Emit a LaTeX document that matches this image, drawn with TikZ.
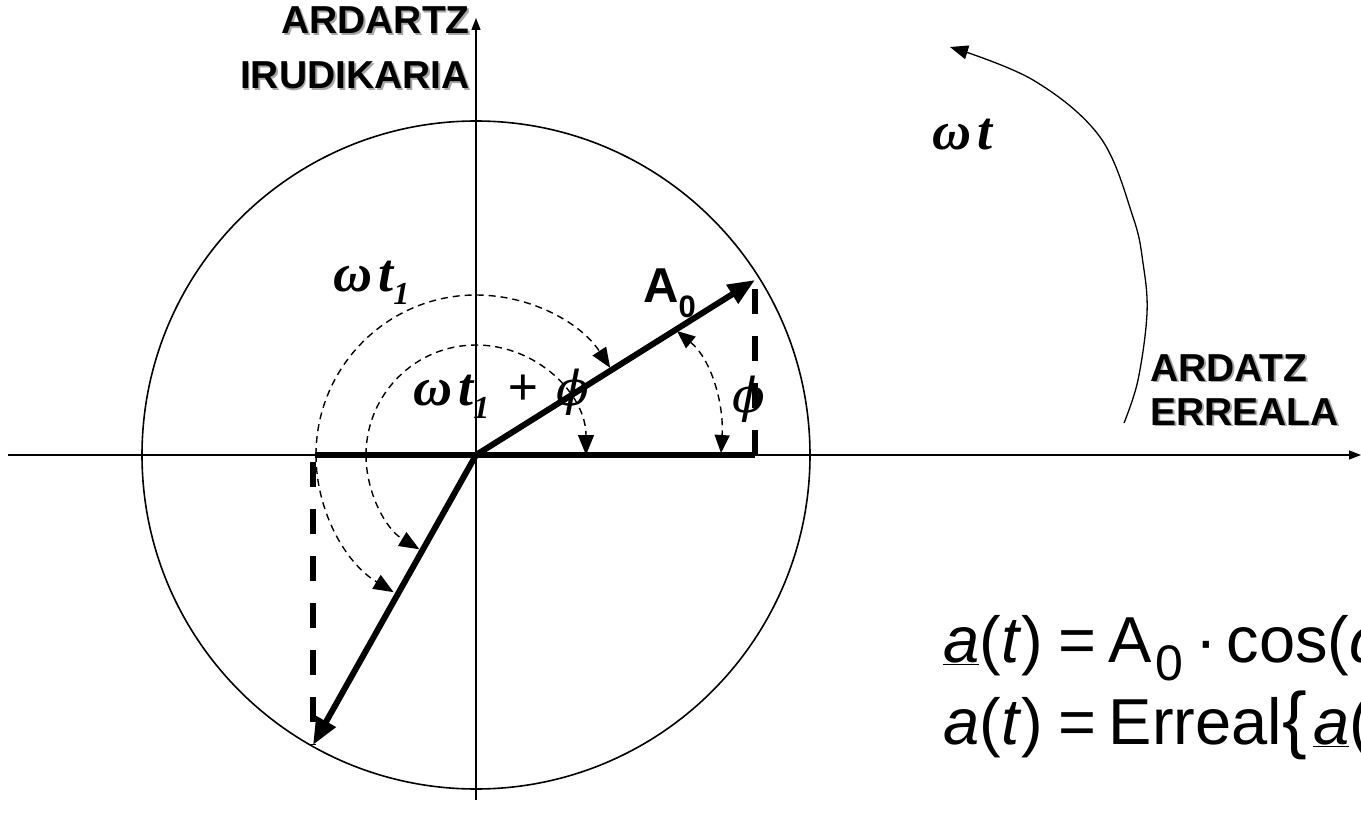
\documentclass[tikz,border=0pt]{standalone}
\usepackage{fontspec}
\setmainfont{Liberation Sans}
\newfontfamily\tms{Liberation Serif}
\newfontfamily\dvs{DejaVu Serif}
\usetikzlibrary{arrows.meta}
\newcommand\shd[1]{\leavevmode\rlap{\hspace{1.8pt}\raisebox{-1.8pt}{\color{black!35}#1}}#1}
\newcommand\gi[1]{{\tms\bfseries\itshape #1}}
\newcommand\gphi{{\dvs\itshape ϕ}}
\newcommand\subone{\raisebox{-13pt}{\fontsize{32}{32}\selectfont 1}}
\begin{document}
\begin{tikzpicture}[x=1pt,y=-1pt,
  axisln/.style={line width=1.3pt,-{Triangle[length=12pt,width=9pt]}},
  vecln/.style={line width=6pt,-{Triangle[length=27pt,width=21pt]}},
  boldln/.style={line width=6pt},
  projln/.style={line width=6.5pt,dash pattern=on 25pt off 22pt},
  darc/.style={line width=1.4pt,dash pattern=on 7pt off 5pt},
  darrow/.style={-{Triangle[length=20pt,width=16pt]}},
  bigtxt/.style={inner sep=0pt,font=\fontsize{39}{39}\selectfont\bfseries},
  grk/.style={inner sep=0pt,font=\fontsize{54}{54}\selectfont},
  eqn/.style={inner sep=0pt,anchor=base west,font=\fontsize{65}{65}\selectfont}]
\useasboundingbox (0,0) rectangle (1361,813);
\fill[white] (0,0) rectangle (1361,813);
\clip (0,0) rectangle (1361,813);

% key points
\coordinate (O) at (476,455);
\coordinate (A) at (755,280);
\coordinate (B) at (313,745);
\coordinate (Hl) at (315,455);
\coordinate (Hr) at (755,455);
\coordinate (Bt) at (313,462);
\coordinate (xl) at (8,455);
\coordinate (xr) at (1361,455);
\coordinate (yb) at (476,800);
\coordinate (yt) at (476,18);
\coordinate (p1) at (677,331);
\coordinate (p2) at (721,453);

% axes and circle
\draw[axisln] (xl) -- (xr);
\draw[axisln] (yb) -- (yt);
\node[circle,draw,line width=1.6pt,minimum size=668pt,inner sep=0pt] (circ) at (O) {};

% dashed projections
\draw[projln] (Hr) -- (A);
\draw[projln] (Bt) -- (B);

% bold lines and vectors
\draw[boldln] (Hl) -- (Hr);
\draw[vecln] (O) -- (A);
\draw[vecln] (O) -- (B);

% dashed angle arcs
\draw[darc,darrow] (O) ++(-180:160) arc[start angle=-180,end angle=-33,radius=160];
\draw[darc,darrow] (O) ++(-180:110) arc[start angle=-180,end angle=0,radius=110];
\draw[darc,darrow] (O) ++(-180:160) arc[start angle=-180,end angle=-239,radius=160];
\draw[darc,darrow] (O) ++(-180:110) arc[start angle=-180,end angle=-239,radius=110];
\draw[darc,{Triangle[length=18pt,width=15pt]}-{Triangle[length=18pt,width=15pt]}] (p1) .. controls (712,360) and (724,405) .. (p2);

% omega t rotation arrow
\draw[line width=1.3pt,-{Triangle[length=18pt,width=14pt]}] plot[smooth,tension=0.6] coordinates {(1124,423) (1138,380) (1147,313) (1143,263) (1133,217) (1100,137) (1033,80) (950,47)};

% labels
\node[bigtxt,anchor=base east] (im1) at (470,34) {\shd{ARDARTZ}};
\node[bigtxt,anchor=base east] (im2) at (470,89) {\shd{IRUDIKARIA}};
\node[bigtxt,anchor=base west] (re1) at (1150,381) {\shd{ARDATZ}};
\node[bigtxt,anchor=base west] (re2) at (1150,425) {\shd{ERREALA}};
\node[inner sep=0pt,anchor=base west] (a0) at (643,302) {\fontsize{49}{49}\selectfont\bfseries A\raisebox{-15pt}{\fontsize{31}{31}\selectfont 0}};

\node[grk,anchor=base west] (wt) at (932,150) {\gi{ω\hspace{6pt}t}};
\node[grk,anchor=base west] (wt1) at (333,292) {\gi{ω\hspace{6pt}t\subone}};
\node[grk,anchor=base west] (wt1p) at (413,405) {\gi{ω\hspace{6pt}t\subone\hspace{18pt}+\hspace{18pt}}{\fontsize{48}{48}\selectfont\gphi}};
\node[inner sep=0pt,anchor=base west,font=\fontsize{48}{48}\selectfont] (phi) at (732,412) {\gphi};

% equations
\node[eqn] (eq1) at (943,662) {\underline{\textit{a}}(\textit{t})\hspace{16pt}=\hspace{12pt}A\hspace{3pt}\raisebox{-18pt}{\fontsize{50}{50}\selectfont 0}\hspace{12pt}·\hspace{10pt}cos(\textit{ω t} + \textit{φ})};
\node[eqn] (eq2) at (943,744) {\textit{a}(\textit{t})\hspace{16pt}=\hspace{12pt}Erreal{\fontsize{74}{74}\selectfont\{}\hspace{6pt}\underline{\textit{a}}(\textit{t}) \}};
\end{tikzpicture}
\end{document}
